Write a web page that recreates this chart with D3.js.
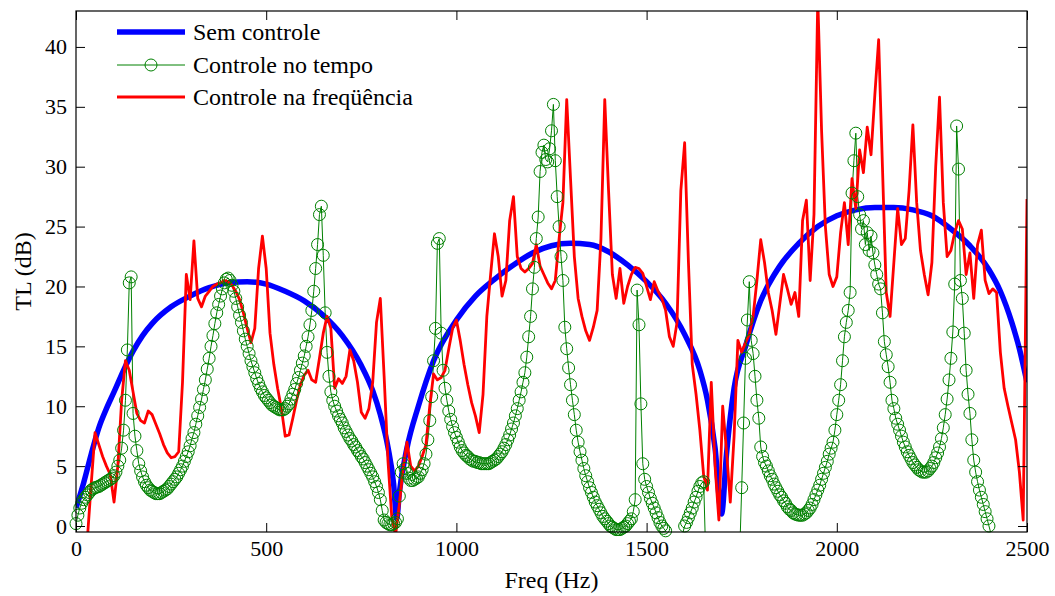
<!DOCTYPE html>
<html>
<head>
<meta charset="utf-8">
<script src="https://cdn.jsdelivr.net/npm/d3@7"></script>
<style>
  html, body { margin: 0; padding: 0; background: #fff; }
  svg { display: block; }
</style>
</head>
<body>
<svg id="chart" width="1055" height="596"></svg>
<script>
// ---------------- data ----------------
const seriesNames = ["Sem controle", "Controle no tempo", "Controle na freqüência"];
const xTicks = [0, 500, 1000, 1500, 2000, 2500];
const yTicks = [0, 5, 10, 15, 20, 25, 30, 35, 40];

// Sem controle (smooth curve, read at irregular frequencies)
const blueFreq = [0, 20, 40, 60, 80, 100, 125, 150, 175, 200, 250, 300, 350, 400, 450, 500, 550, 600, 650, 700,
  750, 780, 800, 820, 835, 843, 850, 870, 900, 940, 1000, 1050, 1100, 1150, 1200, 1250, 1300, 1350, 1400, 1450,
  1500, 1550, 1600, 1640, 1660, 1680, 1697, 1710, 1730, 1760, 1800, 1850, 1900, 1950, 2000, 2050, 2100, 2150,
  2200, 2250, 2300, 2350, 2400, 2430, 2460, 2480, 2500];
const blueTL = [1.5, 3.6, 6.0, 8.2, 9.8, 11.2, 13.0, 14.6, 15.9, 16.9, 18.3, 19.2, 19.9, 20.3, 20.4, 20.2, 19.6, 18.8, 17.6, 15.9,
  13.4, 11.3, 9.3, 6.6, 3.5, 0.6, 2.8, 6.5, 10.0, 13.8, 17.2, 19.2, 20.6, 21.8, 22.8, 23.4, 23.6, 23.5, 22.9, 21.8,
  20.4, 18.6, 16.0, 13.0, 10.5, 6.5, 1.0, 6.0, 11.5, 15.0, 18.8, 21.7, 23.6, 25.0, 25.9, 26.4, 26.6, 26.6,
  26.4, 25.9, 24.8, 23.4, 21.4, 19.6, 17.0, 14.8, 12.0];

// Controle no tempo: sampled every 5 Hz
const greenFreq = d3.range(0, 2501, 5);
const greenTL = [
  0.2, 0.9, 1.5, 1.9, 2.2, 2.4, 2.6, 2.8, 3.0, 3.1, 3.2, 3.25, 3.3, 3.4, 3.5, 3.6, 3.7, 3.8, 3.9, 4.0,
  4.2, 4.5, 5.0, 5.5, 6.5, 8.0, 10.5, 14.7, 20.3, 20.8, 9.4, 7.5, 6.3, 5.2, 4.6, 4.1, 3.7, 3.4, 3.2, 3.0,
  2.9, 2.8, 2.7, 2.7, 2.7, 2.8, 2.9, 3.0, 3.1, 3.3, 3.5, 3.7, 3.9, 4.1, 4.4, 4.7, 5.0, 5.4, 5.8, 6.2,
  6.7, 7.3, 7.8, 8.5, 9.2, 9.9, 10.6, 11.4, 12.2, 13.1, 14.0, 15.0, 15.9, 16.9, 17.8, 18.5, 19.2, 19.8, 20.3, 20.6,
  20.7, 20.5, 20.1, 19.6, 19.0, 18.3, 17.6, 17.0, 16.3, 15.6, 15.0, 14.4, 13.8, 13.3, 12.8, 12.3, 11.9, 11.5, 11.2, 10.9,
  10.7, 10.5, 10.3, 10.1, 10.0, 9.9, 9.8, 9.7, 9.7, 9.7, 9.8, 10.0, 10.2, 10.6, 11.0, 11.4, 11.9, 12.4, 13.0, 13.6,
  14.2, 15.0, 15.8, 16.8, 18.0, 19.6, 21.5, 23.5, 26.0, 26.7, 22.6, 17.8, 14.5, 12.5, 11.2, 10.5, 10.0, 9.6, 9.2, 8.9,
  8.6, 8.2, 7.9, 7.6, 7.3, 7.1, 6.8, 6.6, 6.3, 6.1, 5.8, 5.6, 5.3, 5.0, 4.7, 4.4, 4.1, 3.7, 3.3, 2.8,
  2.2, 1.3, 0.5, 0.3, 0.2, 0.1, 0.1, 0.2, 0.3, 0.6, 2.5, 4.5, 5.2, 4.8, 4.4, 4.0, 3.8, 3.8, 3.9, 4.0,
  4.1, 4.4, 4.7, 5.2, 6.0, 7.2, 8.8, 10.8, 13.8, 16.5, 23.6, 24.0, 16.1, 13.0, 11.5, 10.5, 9.6, 8.9, 8.3, 7.8,
  7.4, 7.0, 6.6, 6.3, 6.1, 5.9, 5.8, 5.6, 5.5, 5.4, 5.4, 5.3, 5.3, 5.2, 5.2, 5.2, 5.2, 5.2, 5.3, 5.4,
  5.5, 5.6, 5.8, 6.0, 6.2, 6.5, 6.8, 7.2, 7.6, 8.1, 8.6, 9.2, 9.8, 10.5, 11.2, 12.0, 12.8, 14.1, 15.8, 17.5,
  19.8, 21.6, 24.0, 25.8, 29.6, 31.2, 31.8, 30.6, 30.4, 31.5, 33.0, 35.2, 30.5, 27.5, 25.0, 22.5, 20.5, 16.6, 14.8, 13.2,
  11.8, 10.5, 9.3, 8.0, 7.0, 6.2, 5.5, 4.8, 4.2, 3.7, 3.2, 2.8, 2.4, 2.0, 1.7, 1.4, 1.1, 0.8, 0.6, 0.4,
  0.2, 0.0, -0.1, -0.2, -0.3, -0.3, -0.3, -0.2, -0.1, 0.0, 0.2, 0.4, 0.6, 1.2, 2.2, 19.7, 16.8, 10.2, 5.2, 3.9,
  3.3, 2.8, 2.3, 1.9, 1.5, 1.1, 0.7, 0.3, 0.0, -0.2, -0.4, -1.0, -2.0, -3.0, -4.0, -4.0, -3.5, -2.5, -1.5, -0.6,
  0.0, 0.3, 0.7, 1.1, 1.5, 2.0, 2.4, 2.9, 3.3, 3.6, 3.7, -2.0, -8.0, -11.0, -13.0, -14.0, -15.0, -15.0, -15.0, -15.0,
  -15.0, -15.0, -14.0, -13.0, -12.0, -11.0, -10.0, -8.0, -6.0, -2.0, 3.2, 8.6, 14.0, 17.2, 20.4, 15.5, 14.4, 12.5, 10.5, 9.0,
  6.6, 5.8, 5.3, 5.0, 4.6, 4.2, 3.9, 3.5, 3.2, 2.9, 2.6, 2.4, 2.1, 1.9, 1.6, 1.4, 1.3, 1.1, 1.0, 0.95,
  0.9, 0.9, 0.9, 1.0, 1.1, 1.3, 1.5, 1.8, 2.2, 2.6, 3.0, 3.4, 3.9, 4.4, 4.9, 5.4, 6.0, 6.5, 7.0, 8.0,
  9.3, 10.5, 11.8, 13.8, 15.8, 17.0, 18.0, 19.5, 27.8, 30.5, 32.8, 27.5, 26.0, 24.8, 25.5, 23.5, 24.5, 23.0, 24.2, 22.8,
  21.8, 21.0, 20.2, 19.8, 17.8, 15.4, 14.3, 13.3, 12.0, 10.5, 9.8, 9.0, 8.5, 8.0, 7.5, 7.0, 6.6, 6.2, 5.9, 5.6,
  5.3, 5.1, 4.9, 4.7, 4.6, 4.5, 4.5, 4.5, 4.6, 4.8, 5.0, 5.3, 5.7, 6.1, 6.6, 7.3, 8.2, 9.3, 10.6, 12.2,
  14.0, 16.2, 20.2, 33.4, 29.8, 20.5, 19.0, 16.1, 13.0, 11.0, 9.4, 7.2, 5.5, 4.5, 3.7, 3.0, 2.4, 1.8, 1.2, 0.6,
  0.0, -0.6, -2.0, -4.0, -6.0, -8.0, -10.0, -12.0, -14.0, -16.0, -18.0, -20.0, -21.0, -22.0, -23.0, -24.0, -25.0, -25.0, -26.0, -26.0,
  -26.0];

// Controle na freqüência: sampled every 10 Hz
const redFreq = d3.range(0, 2501, 10);
const redTL = [
  -3.0, -3.0, -2.5, -1.0, 3.5, 7.8, 6.8, 5.8, 5.0, 4.3,
  2.0, 5.0, 10.5, 13.8, 13.0, 11.2, 9.4, 8.8, 8.6, 9.6,
  9.3, 8.5, 7.7, 6.8, 6.1, 5.7, 5.8, 6.2, 12.0, 21.0,
  18.9, 23.8, 19.0, 18.3, 19.2, 19.6, 20.0, 20.2, 20.3, 20.5,
  20.4, 20.1, 19.6, 18.9, 17.8, 16.5, 15.3, 16.5, 21.5, 24.2,
  21.5, 16.1, 13.5, 11.5, 9.8, 7.5, 7.6, 9.0, 10.5, 11.8,
  12.6, 13.0, 12.2, 12.0, 14.0, 16.1, 17.5, 16.5, 11.5, 12.3,
  11.9, 12.5, 14.7, 13.8, 12.0, 9.5, 9.0, 9.8, 12.0, 17.0,
  19.0, 12.5, 5.5, 0.8, -0.8, 1.8, 4.8, 7.0, 5.0, 4.6,
  5.0, 5.8, 6.8, 10.0, 12.7, 12.2, 12.4, 13.0, 14.8, 16.5,
  17.2, 15.5, 13.5, 11.8, 10.3, 9.2, 7.8, 11.0, 17.5, 21.0,
  24.4, 22.5, 19.2, 20.5, 25.5, 27.5, 22.5, 21.5, 21.2, 21.5,
  21.9, 23.5, 21.7, 21.0, 20.3, 19.8, 20.5, 24.0, 27.0, 35.6,
  29.0, 22.5, 19.0, 17.5, 16.3, 15.5, 16.6, 18.0, 24.0, 35.6,
  28.0, 21.0, 19.0, 21.5, 18.6, 20.0, 21.0, 21.6, 21.5, 21.1,
  20.0, 18.9, 20.4, 19.6, 19.0, 18.0, 15.8, 15.0, 17.0, 28.0,
  32.0, 22.0, 13.5, 11.0, 8.0, 4.2, 3.0, 12.0, 5.0, 0.5,
  10.0, 6.3, 2.0, 7.5, 15.5, 14.5, 15.3, 16.0, 17.5, 20.5,
  23.9, 22.0, 19.5, 18.0, 16.0, 18.5, 21.0, 19.8, 18.5, 19.5,
  17.5, 25.5, 27.2, 20.5, 26.0, 44.0, 33.0, 25.0, 21.0, 20.0,
  20.8, 24.5, 27.0, 23.5, 29.0, 26.5, 31.4, 29.5, 33.3, 31.0,
  36.0, 40.6, 30.0, 19.5, 17.5, 22.0, 26.5, 23.5, 24.0, 28.0,
  33.5, 27.0, 23.0, 21.0, 19.3, 22.0, 30.0, 35.8, 27.0, 22.5,
  23.0, 24.5, 25.5, 24.8, 21.0, 22.8, 19.0, 23.5, 24.7, 20.5,
  19.4, 19.8, 19.5, 14.5, 11.5, 10.0, 8.6, 7.2, 4.5, 0.5,
  27.3];

// ---------------- chart ----------------
const FONT = '"Liberation Serif"';
const svg = d3.select("#chart");
const L = 76, R = 1027, T = 11, B = 532;
const x = d3.scaleLinear().domain([0, 2500]).range([L, R]);
const y = d3.scaleLinear().domain([-0.5, 43]).range([B, T]);

const colBlue = "#0000ff", colGreen = "#008000", colRed = "#ff0000";

svg.append("defs").append("clipPath").attr("id", "plotclip")
  .append("rect").attr("x", L).attr("y", T).attr("width", R - L).attr("height", B - T);

const plot = svg.append("g");
const clipped = plot.append("g").attr("clip-path", "url(#plotclip)");

const blueData = blueFreq.map((f, i) => [f, blueTL[i]]);
const greenData = greenFreq.map((f, i) => [f, greenTL[i]]).filter(d => d[1] !== undefined);
const redData = redFreq.map((f, i) => [f, redTL[i]]).filter(d => d[1] !== undefined);

const smoothLine = d3.line().x(d => x(d[0])).y(d => y(d[1])).curve(d3.curveMonotoneX);
const line = d3.line().x(d => x(d[0])).y(d => y(d[1]));

clipped.append("path").datum(blueData)
  .attr("d", smoothLine).attr("fill", "none").attr("stroke", colBlue)
  .attr("stroke-width", 5.5).attr("stroke-linejoin", "round");

clipped.append("path").datum(greenData)
  .attr("d", line).attr("fill", "none").attr("stroke", colGreen)
  .attr("stroke-width", 1).attr("stroke-linejoin", "round");

plot.append("g").selectAll("circle")
  .data(greenData.filter(d => d[1] >= -0.5 && d[1] <= 43))
  .join("circle")
  .attr("cx", d => x(d[0])).attr("cy", d => y(d[1])).attr("r", 6)
  .attr("fill", "none").attr("stroke", colGreen).attr("stroke-width", 1);

clipped.append("path").datum(redData)
  .attr("d", line).attr("fill", "none").attr("stroke", colRed)
  .attr("stroke-width", 2.8).attr("stroke-linejoin", "round");

// ---------------- axes ----------------
const tickFont = 22, labelFont = 24;
const tickLen = 9;

const gx = svg.append("g").attr("transform", `translate(0,${B})`)
  .call(d3.axisBottom(x).tickValues(xTicks).tickSize(-tickLen).tickPadding(8).tickFormat(d3.format("d")));
const gxTop = svg.append("g").attr("transform", `translate(0,${T})`)
  .call(d3.axisTop(x).tickValues(xTicks).tickSize(-tickLen).tickFormat(""));
const gy = svg.append("g").attr("transform", `translate(${L},0)`)
  .call(d3.axisLeft(y).tickValues(yTicks).tickSize(-tickLen).tickPadding(9).tickFormat(d3.format("d")));
const gyR = svg.append("g").attr("transform", `translate(${R},0)`)
  .call(d3.axisRight(y).tickValues(yTicks).tickSize(-tickLen).tickFormat(""));

[gx, gxTop, gy, gyR].forEach(g => {
  g.attr("font-family", null).attr("font-size", null);
  g.select(".domain").remove();
  g.selectAll(".tick line").attr("stroke", "#000").attr("stroke-width", 1);
  g.selectAll(".tick text").style("font-family", FONT).style("font-size", tickFont + "px").attr("fill", "#000");
});

svg.append("rect").attr("x", L).attr("y", T).attr("width", R - L).attr("height", B - T)
  .attr("fill", "none").attr("stroke", "#000").attr("stroke-width", 1.2);

svg.append("text").attr("x", (L + R) / 2).attr("y", 588).attr("text-anchor", "middle")
  .style("font-family", FONT).style("font-size", labelFont + "px").attr("fill", "#000").text("Freq (Hz)");
svg.append("text").attr("transform", `translate(31,${(T + B) / 2}) rotate(-90)`)
  .attr("text-anchor", "middle").style("font-family", FONT).style("font-size", labelFont + "px")
  .attr("fill", "#000").text("TL (dB)");

// ---------------- legend ----------------
const legend = svg.append("g");
const legY = [32, 65, 97];
const legStyles = [
  { color: colBlue, width: 5.5, marker: false },
  { color: colGreen, width: 1, marker: true },
  { color: colRed, width: 2.8, marker: false }
];
seriesNames.forEach((name, i) => {
  const st = legStyles[i];
  legend.append("line").attr("x1", 117).attr("x2", 185).attr("y1", legY[i]).attr("y2", legY[i])
    .attr("stroke", st.color).attr("stroke-width", st.width);
  if (st.marker) {
    legend.append("circle").attr("cx", 151).attr("cy", legY[i]).attr("r", 6)
      .attr("fill", "none").attr("stroke", st.color).attr("stroke-width", 1);
  }
  legend.append("text").attr("x", 193).attr("y", legY[i]).attr("dy", "0.35em")
    .style("font-family", FONT).style("font-size", labelFont + "px").attr("fill", "#000").text(name);
});
</script>
</body>
</html>
